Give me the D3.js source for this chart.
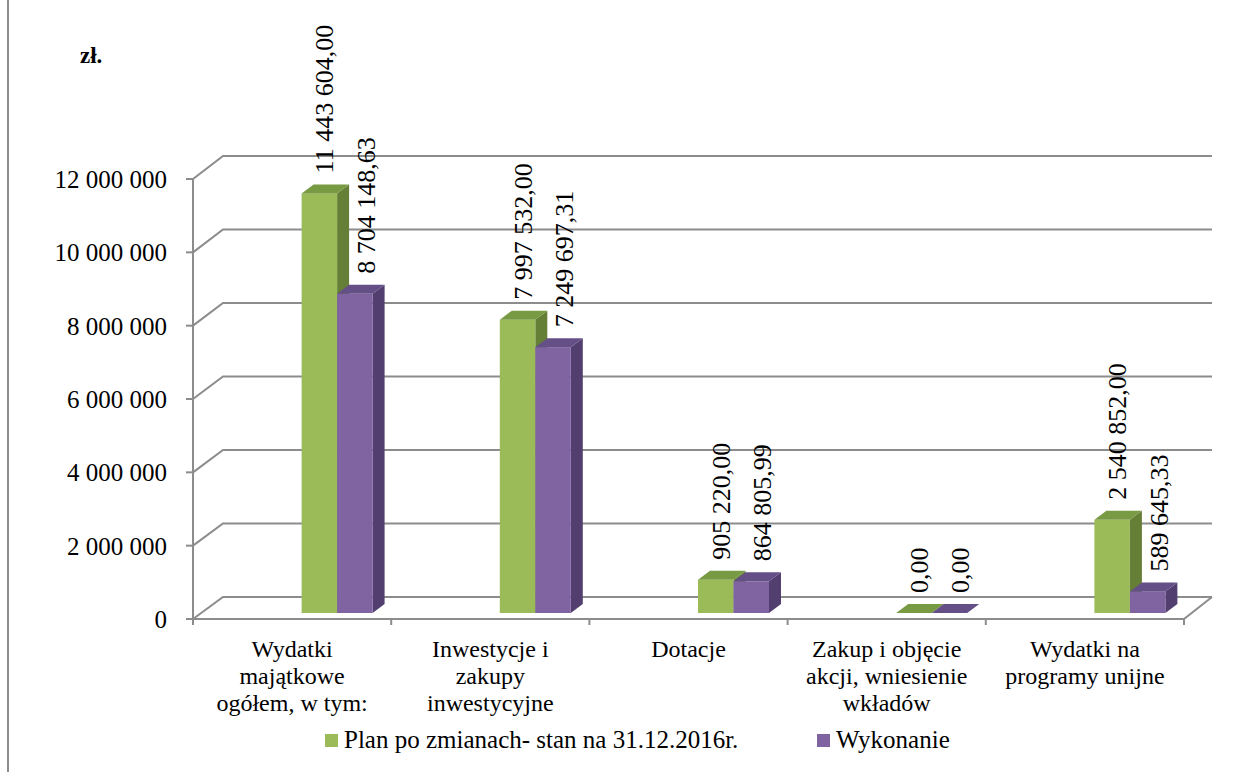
<!DOCTYPE html>
<html>
<head>
<meta charset="utf-8">
<script src="https://cdn.jsdelivr.net/npm/d3@7"></script>
</head>
<body style="margin:0">
<script>
// data
const categories = [
  ["Wydatki", "majątkowe", "ogółem, w tym:"],
  ["Inwestycje i", "zakupy", "inwestycyjne"],
  ["Dotacje"],
  ["Zakup i objęcie", "akcji, wniesienie", "wkładów"],
  ["Wydatki na", "programy unijne"]
];
const seriesNames = ["Plan po zmianach- stan na 31.12.2016r.", "Wykonanie"];
const planValues = [11443604.00, 7997532.00, 905220.00, 0.00, 2540852.00];
const execValues = [8704148.63, 7249697.31, 864805.99, 0.00, 589645.33];
const yTicks = [0, 2000000, 4000000, 6000000, 8000000, 10000000, 12000000];

// set the size of svg
const width = 1251, height = 772;
const depthX = 30, depthY = -22;     // back wall offset
const barDX = 12, barDY = -9;        // bar depth
const colors = {
  front: ["#9bbb59", "#8064a2"],
  top:   ["#789a43", "#654f87"],
  side:  ["#657f37", "#523f6f"]
};
const gridColor = "#8c8c8c";
const fontName = "'Times New Roman'";

const plAxis = d3.formatLocale({decimal: ",", thousands: " ", grouping: [3], currency: ["", ""]});
const fmtTick = plAxis.format(",.0f");
const fmtVal = plAxis.format(",.2f");

const svg = d3.select("body").append("svg")
  .attr("width", width)
  .attr("height", height);

const catKeys = categories.map(d => d.join(" "));

// front floor / axis
const x = d3.scaleBand().domain(catKeys).range([193, 1184]);
// bars sit a bit to the right because of the perspective
const xBar = d3.scaleBand().domain(catKeys).range([193 + 45, 1184 + 45]);
const xSeries = d3.scaleBand().domain([0, 1]).range([-35.5, 35.5]);

const yFront = d3.scaleLinear().domain([0, 12000000]).range([619, 179]);
const yBack = d3.scaleLinear().domain([0, 12000000]).range([619 + depthY, 179 + depthY - 1]);
const yBar = d3.scaleLinear().domain([0, 12000000]).range([613, 173]);

// chart border on the left
svg.append("line")
  .attr("x1", 8).attr("x2", 8).attr("y1", 0).attr("y2", height)
  .attr("stroke", "#8c8c8c").attr("stroke-width", 2);

// gridlines on side wall and back wall
const grid = svg.append("g").attr("stroke", gridColor).attr("stroke-width", 2).attr("fill", "none");
yTicks.forEach(v => {
  grid.append("path")
    .attr("d", `M${x.range()[0]},${yFront(v)}L${x.range()[0] + depthX},${yBack(v)}L${x.range()[1] + depthX - 2},${yBack(v)}`);
});
// value axis line and ticks
grid.append("line")
  .attr("x1", x.range()[0]).attr("x2", x.range()[0])
  .attr("y1", yFront(0)).attr("y2", yFront(12000000));
yTicks.forEach(v => {
  grid.append("line")
    .attr("x1", x.range()[0] - 7).attr("x2", x.range()[0])
    .attr("y1", yFront(v)).attr("y2", yFront(v));
});
// floor front edge + right edge
grid.append("path")
  .attr("d", `M${x.range()[0]},${yFront(0)}L${x.range()[1]},${yFront(0)}L${x.range()[1] + depthX - 2},${yBack(0)}`);
// category ticks
const catEdges = catKeys.map(c => x(c)).concat([x.range()[1]]);
catEdges.forEach(e => {
  grid.append("line")
    .attr("x1", e).attr("x2", e)
    .attr("y1", yFront(0)).attr("y2", yFront(0) + 6);
});

// tick labels
svg.append("g").selectAll("text")
  .data(yTicks)
  .join("text")
    .attr("x", 167)
    .attr("y", d => yFront(d) + 9)
    .attr("text-anchor", "end")
    .style("font-family", fontName)
    .attr("font-size", 25)
    .text(d => fmtTick(d));

svg.append("text")
  .attr("x", 80).attr("y", 63)
  .style("font-family", fontName)
  .attr("font-size", 23)
  .attr("font-weight", "bold")
  .text("zł.");

// bars
const series = [planValues, execValues];
const barG = svg.append("g");
catKeys.forEach((c, i) => {
  series.forEach((vals, s) => {
    const v = vals[i];
    const x0 = xBar(c) + xBar.bandwidth() / 2 + xSeries(s);
    const x1 = x0 + xSeries.bandwidth();
    const yb = yBar(0), yt = yBar(v);
    const g = barG.append("g");
    // right side
    g.append("path")
      .attr("d", `M${x1},${yt}L${x1 + barDX},${yt + barDY}L${x1 + barDX},${yb + barDY}L${x1},${yb}Z`)
      .attr("fill", colors.side[s]);
    // front
    g.append("rect")
      .attr("x", x0).attr("y", yt)
      .attr("width", x1 - x0).attr("height", yb - yt)
      .attr("fill", colors.front[s]);
    // top
    g.append("path")
      .attr("d", `M${x0},${yt}L${x0 + barDX},${yt + barDY}L${x1 + barDX},${yt + barDY}L${x1},${yt}Z`)
      .attr("fill", colors.top[s]);
  });
});

// data labels, rotated
const labelShift = [5, 11];
catKeys.forEach((c, i) => {
  series.forEach((vals, s) => {
    const v = vals[i];
    const cx = xBar(c) + xBar.bandwidth() / 2 + xSeries(s) + xSeries.bandwidth() / 2 + labelShift[s];
    const y0 = yBar(v) - 20;
    svg.append("text")
      .attr("transform", `translate(${cx + 9},${y0}) rotate(-90)`)
      .style("font-family", fontName)
      .attr("font-size", 26)
      .text(fmtVal(v));
  });
});

// category labels
const catG = svg.append("g");
categories.forEach((lines, i) => {
  lines.forEach((ln, j) => {
    catG.append("text")
      .attr("x", x(catKeys[i]) + x.bandwidth() / 2)
      .attr("y", 657 + j * 27)
      .attr("text-anchor", "middle")
      .style("font-family", fontName)
      .attr("font-size", 24)
      .text(ln);
  });
});

// legend
const legendX = [325, 817];
const legend = svg.append("g");
seriesNames.forEach((n, s) => {
  legend.append("rect")
    .attr("x", legendX[s]).attr("y", 734)
    .attr("width", 13).attr("height", 13)
    .attr("fill", colors.front[s]);
  legend.append("text")
    .attr("x", legendX[s] + 19).attr("y", 748)
    .style("font-family", fontName)
    .attr("font-size", 25)
    .text(n);
});
</script>
</body>
</html>
